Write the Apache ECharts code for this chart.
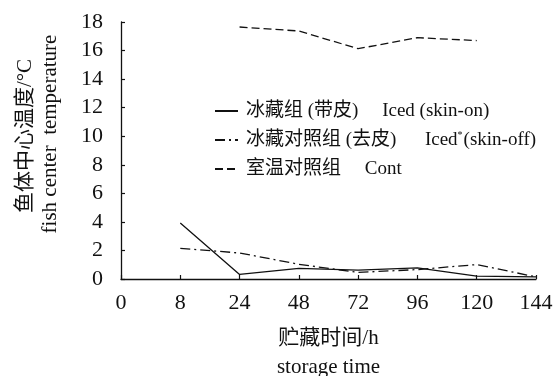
<!DOCTYPE html>
<html>
<head>
<meta charset="utf-8">
<script src="https://cdn.jsdelivr.net/npm/echarts@6/dist/echarts.min.js"></script>
<style>
  html, body { margin: 0; padding: 0; background: #fff; }
  #chart { width: 554px; height: 376px; }
</style>
</head>
<body>
<div id="chart"></div>
<script>
// Storage time (h), evenly spaced categories
var hours = ['0', '8', '24', '48', '72', '96', '120', '144'];

// Fish core temperature (°C); null where no reading
var icedSkinOn  = [null, 3.92, 0.32, 0.74, 0.62, 0.78, 0.2, 0.15];
var icedSkinOff = [null, 2.15, 1.82, 1.03, 0.46, 0.66, 1.01, 0.15];
var roomTemp    = [null, null, 17.65, 17.37, 16.13, 16.9, 16.7, null];

var seriesNames = ['iced-on', 'iced-off', 'cont'];
var legendLabels = [
  '冰藏组 (带皮)     Iced (skin-on)',
  '冰藏对照组 (去皮)      Iced{sup|*}(skin-off)',
  '室温对照组     Cont'
];

var FONT = "'Liberation Serif', 'Noto Sans CJK SC', serif";
var INK = '#111';

var chart = echarts.init(document.getElementById('chart'), null, { renderer: 'canvas' });

function lineSeries(name, data, dash) {
  return {
    name: name,
    type: 'line',
    data: data,
    symbol: 'none',
    connectNulls: false,
    lineStyle: { color: INK, width: 1.3, type: dash },
    itemStyle: { color: INK }
  };
}

chart.setOption({
  animation: false,
  backgroundColor: '#fff',
  grid: { left: 121, right: 18, top: 22, bottom: 97, outerBoundsMode: 'none', containLabel: false },
  legend: {
    orient: 'vertical',
    left: 209,
    top: 96,
    itemWidth: 23,
    itemHeight: 10,
    itemGap: 9,
    data: seriesNames,
    itemStyle: { opacity: 0 },
    formatter: function (name) {
      return legendLabels[seriesNames.indexOf(name)];
    },
    textStyle: {
      fontFamily: FONT,
      fontSize: 19,
      lineHeight: 20,
      color: INK,
      padding: [0, 0, 0, 3],
      rich: {
        sup: { fontFamily: FONT, fontSize: 10, verticalAlign: 'top', color: INK, padding: [0, 1, 8, 0] }
      }
    }
  },
  xAxis: {
    type: 'category',
    data: hours,
    boundaryGap: false,
    name: '贮藏时间/h\nstorage time',
    nameLocation: 'middle',
    nameGap: 45,
    nameTextStyle: { fontFamily: FONT, fontSize: 21, lineHeight: 29, color: INK },
    axisLine: { lineStyle: { color: INK, width: 1.3 } },
    axisTick: { inside: true, length: 4, alignWithLabel: true, lineStyle: { color: INK, width: 1.2 } },
    axisLabel: { fontFamily: FONT, fontSize: 22, color: INK, margin: 13 },
    splitLine: { show: false }
  },
  yAxis: {
    type: 'value',
    min: 0,
    max: 18,
    interval: 2,
    axisLine: { show: true, lineStyle: { color: INK, width: 1.3 } },
    axisTick: { show: true, inside: true, length: 4, lineStyle: { color: INK, width: 1.2 } },
    axisLabel: { fontFamily: FONT, fontSize: 22, color: INK, margin: 18 },
    splitLine: { show: false }
  },
  graphic: [
    {
      type: 'text',
      x: 25, y: 136,
      rotation: Math.PI / 2,
      style: { text: '鱼体中心温度/°C', font: "21px " + FONT, fill: INK, align: 'center', verticalAlign: 'middle' }
    },
    {
      type: 'text',
      x: 50, y: 134,
      rotation: Math.PI / 2,
      style: { text: 'fish center  temperature', font: "21px " + FONT, fill: INK, align: 'center', verticalAlign: 'middle' }
    }
  ],
  series: [
    lineSeries('iced-on', icedSkinOn, 'solid'),
    lineSeries('iced-off', icedSkinOff, [10, 4, 2, 4]),
    lineSeries('cont', roomTemp, [8, 4])
  ]
});
</script>
</body>
</html>
